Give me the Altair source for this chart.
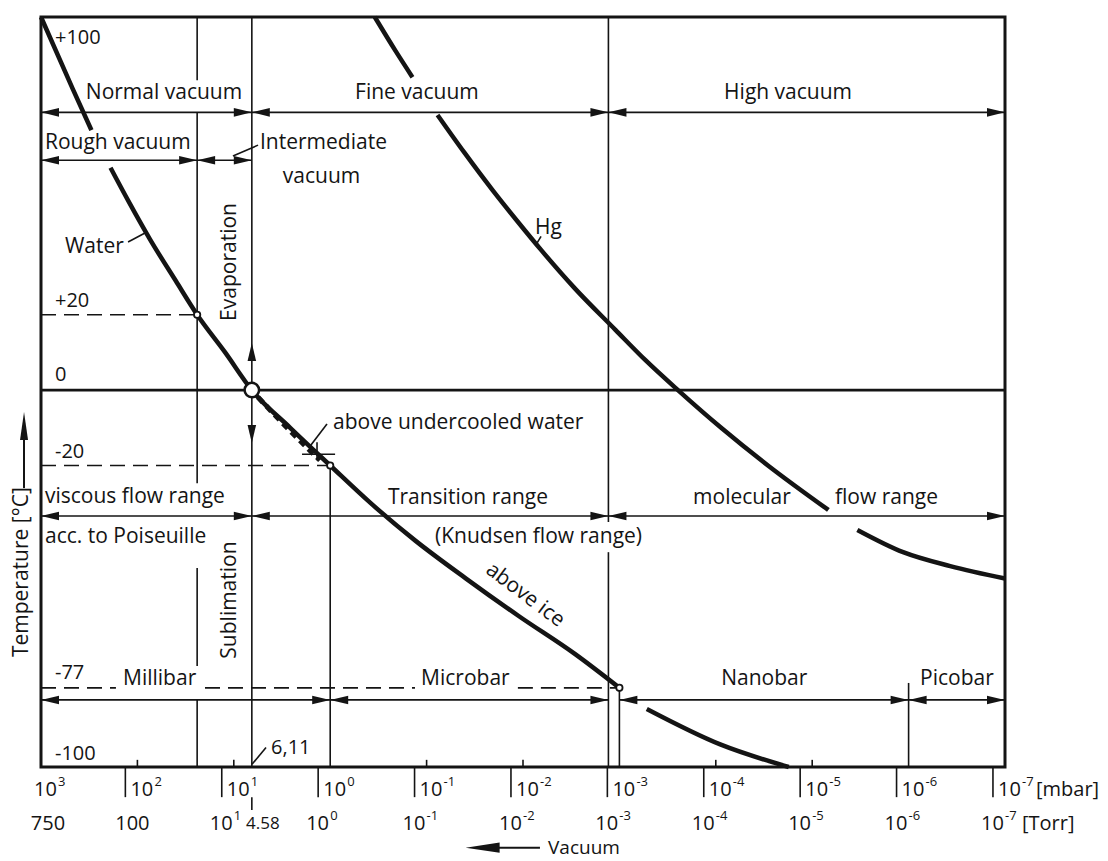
import altair as alt
import pandas as pd

FONT = "Open Sans"
INK = "#141414"

# ---------------- data (pressure in mbar, temperature in degC) ----------------
# water vapour pressure (over ice below 0 degC); segments are broken where labels sit
water_p = [1000, 470, 300,
           190, 123, 74, 40, 24, 12.3, 6.5, 2.6, 1.0, 0.38, 0.13, 0.039, 0.011, 0.0029, 0.001,
           0.00052, 0.00009, 0.0000175]
water_T = [99, 80, 69,
           59, 50, 40, 29, 20, 10, 0, -10, -20, -30, -40, -50, -60, -70, -79,
           -84.6, -94, -100]
water_seg = ["a"] * 3 + ["b"] * 15 + ["c"] * 3

# mercury vapour pressure
hg_p = [0.345, 0.21, 0.14,
        0.077, 0.0405, 0.0206, 0.0116, 0.0064, 0.0029, 0.0011, 0.00054, 0.000247, 0.000088,
        0.0000288, 0.0000068,
        0.0000034, 0.00000114, 0.00000037, 0.0000001]
hg_T = [99, 90, 83,
        73, 63, 53, 45, 37, 27, 16, 8, 0, -10, -20, -31.8,
        -37.1, -43, -46.7, -50]
hg_seg = ["a"] * 3 + ["b"] * 12 + ["c"] * 4

# vapour pressure above undercooled water
uc_p = [5.6, 2.8, 1.28]
uc_T = [-1.9, -10, -18.6]

# pressure ranges (double arrows)
range_names = ["Normal vacuum", "Fine vacuum", "High vacuum", "Rough vacuum", "Intermediate vacuum",
               "viscous flow range", "Transition range", "molecular flow range",
               "Millibar", "Microbar", "Nanobar", "Picobar"]
range_hi = [1000, 6.5, 0.0013, 1000, 24, 1000, 6.5, 0.0013, 1000, 1, 0.001, 1e-6]
range_lo = [6.5, 0.0013, 1e-7, 24, 6.5, 6.5, 0.0013, 1e-7, 1, 0.0013, 1e-6, 1e-7]
range_T = [73.7, 73.7, 73.7, 61, 61, -33.4, -33.4, -33.4, -82.2, -82.2, -82.2, -82.2]

# vertical boundary lines (pieces)
vline_p = [24, 24, 24, 24, 6.5, 1, 0.0013, 0.0013, 0.001, 1e-6]
vline_T1 = [99, 73.7, -47.2, -82.2, 99, -20, 99, -43, -79, -77.7]
vline_T2 = [82.2, -24.7, -73.2, -100, -100, -100, -35, -100, -100, -100]

# dashed reference temperatures
dash_T = [20, -20, -79, -79, -79]
dash_p1 = [1000, 1000, 1000, 19.9, 0.0113]
dash_p2 = [24, 1, 167, 0.132, 0.001]

# marked points
small_pts_p = [24, 1, 0.001]
small_pts_T = [20, -20, -79]
triple_p = [6.5]
triple_T = [0]

# bottom axis
mbar_exp = ["3", "2", "1", "0", "-1", "-2", "-3", "-4", "-5", "-6", "-7"]
mbar_tick_p = [100, 10, 0.1, 0.01, 1e-4, 1e-5]
torr_exp = ["1", "0", "-1", "-2", "-3", "-4", "-5", "-6", "-7"]
torr_tick_torr = [100, 10, 1, 0.1, 0.01, 1e-3, 1e-4, 1e-5, 1e-6, 1e-7]
MBAR_PER_TORR = 1.3332

# temperature labels
temp_labels = ["+100", "+20", "0", "-20", "-77", "-100"]
temp_label_T = [93.4, 23.6, 4.0, -16.4, -75.1, -96.6]

# free text labels
left_labels = ["Rough vacuum", "Intermediate", "vacuum", "Water", "Hg", "above undercooled water",
               "viscous flow range", "Transition range", "molecular", "flow range",
               "acc. to Poiseuille", "(Knudsen flow range)", "Millibar", "Microbar", "Nanobar", "Picobar"]
left_p = [909, 5.35, 3.1, 564, 0.0075, 0.935, 909, 0.252, 1.72e-4, 5.8e-6, 909, 0.0818,
          141, 0.114, 8.8e-5, 7.6e-7]
left_T = [65.5, 65.5, 56.5, 37.9, 43, -8.8, -28.4, -28.7, -28.7, -28.7, -39, -39,
          -76.7, -76.7, -76.7, -76.7]
center_labels = ["Normal vacuum", "Fine vacuum", "High vacuum"]
center_p = [53, 0.126, 1.78e-5]
center_T = [78.8, 78.8, 78.8]
vert_labels = ["Evaporation", "Sublimation"]
vert_p = [10.9, 10.9]
vert_T = [34, -55.7]

# short leader lines
lead_p1 = [125, 10.2, 1.08, 1.96, 1.37, 0.00716, 6.48]
lead_T1 = [39.3, 62.1, -9, -17, -13.8, 39, -99.3]
lead_p2 = [83.4, 5.6, 1.62, 0.89, 1.37, 0.0065, 4.63]
lead_T2 = [41.7, 65.0, -14.9, -17, -18.6, 40.8, -94.8]

# ---------------- scales & helpers ----------------
xs = alt.Scale(type="log", domain=[1e-7, 1000], reverse=True, nice=False)
ys = alt.Scale(type="linear", domain=[-100, 99], nice=False, zero=False)


def X(f="p"):
    return alt.X(f"{f}:Q", scale=xs, axis=None)


def Y(f="T"):
    return alt.Y(f"{f}:Q", scale=ys, axis=None)


def text_layer(df, size, align="left", angle=0, dx=0, dy=0, baseline="middle"):
    return alt.Chart(df).mark_text(font=FONT, fontSize=size, align=align, angle=angle,
                                   dx=dx, dy=dy, baseline=baseline, color=INK).encode(
        x=X(), y=Y(), text="label:N")


layers = []

# horizontal range lines
ranges = pd.DataFrame({"name": range_names, "hi": range_hi, "lo": range_lo, "T": range_T})
layers.append(alt.Chart(ranges).mark_rule(strokeWidth=1.6, color=INK).encode(
    x=X("hi"), x2=alt.X2("lo:Q"), y=Y("T")))

# 0 degC line
zero = pd.DataFrame({"p1": [1000], "p2": [1e-7], "T": [0]})
layers.append(alt.Chart(zero).mark_rule(strokeWidth=2.6, color=INK).encode(
    x=X("p1"), x2=alt.X2("p2:Q"), y=Y("T")))

# vertical lines
vl = pd.DataFrame({"p": vline_p, "T1": vline_T1, "T2": vline_T2})
layers.append(alt.Chart(vl).mark_rule(strokeWidth=1.6, color=INK).encode(
    x=X("p"), y=Y("T1"), y2=alt.Y2("T2:Q")))

# dashed lines
dl = pd.DataFrame({"p1": dash_p1, "p2": dash_p2, "T": dash_T})
layers.append(alt.Chart(dl).mark_rule(strokeWidth=1.6, strokeDash=[15, 8], color=INK).encode(
    x=X("p1"), x2=alt.X2("p2:Q"), y=Y("T")))

# axis ticks
mt = pd.DataFrame({"p": mbar_tick_p, "T1": [-100] * len(mbar_tick_p), "T2": [-98.1] * len(mbar_tick_p)})
tt = pd.DataFrame({"p": [t * MBAR_PER_TORR for t in torr_tick_torr],
                   "T1": [-100] * len(torr_tick_torr), "T2": [-108] * len(torr_tick_torr)})
t458 = pd.DataFrame({"p": triple_p, "T1": [-108], "T2": [-111.4]})
for d in (mt, tt, t458):
    layers.append(alt.Chart(d).mark_rule(strokeWidth=1.6, color=INK).encode(
        x=X("p"), y=Y("T1"), y2=alt.Y2("T2:Q")))

# leader lines
ld = pd.DataFrame({"p1": lead_p1, "T1": lead_T1, "p2": lead_p2, "T2": lead_T2})
layers.append(alt.Chart(ld).mark_rule(strokeWidth=1.6, color=INK).encode(
    x=X("p1"), x2=alt.X2("p2:Q"), y=Y("T1"), y2=alt.Y2("T2:Q")))

# arrow shafts for axis title arrows
VAC_T = -121.4
shaft_v = pd.DataFrame({"p": [1500], "T1": [-26], "T2": [-8]})
layers.append(alt.Chart(shaft_v).mark_rule(strokeWidth=2, color=INK).encode(
    x=X("p"), y=Y("T1"), y2=alt.Y2("T2:Q")))
shaft_h = pd.DataFrame({"p1": [0.0195], "p2": [0.00667], "T": [VAC_T]})
layers.append(alt.Chart(shaft_h).mark_rule(strokeWidth=2, color=INK).encode(
    x=X("p1"), x2=alt.X2("p2:Q"), y=Y("T")))

# curves
curves = pd.concat([
    pd.DataFrame({"p": water_p, "T": water_T, "seg": ["w" + s for s in water_seg]}),
    pd.DataFrame({"p": hg_p, "T": hg_T, "seg": ["h" + s for s in hg_seg]}),
], ignore_index=True)
curves["i"] = range(len(curves))
layers.append(alt.Chart(curves).mark_line(strokeWidth=4.5, color=INK, interpolate="monotone",
                                          strokeCap="butt").encode(
    x=X(), y=Y(), detail="seg:N", order="i:Q"))

uc = pd.DataFrame({"p": uc_p, "T": uc_T, "i": range(len(uc_p))})
layers.append(alt.Chart(uc).mark_line(strokeWidth=5, color=INK, strokeDash=[7, 5],
                                      interpolate="monotone").encode(
    x=X(), y=Y(), order="i:Q"))

# text labels
layers.append(text_layer(pd.DataFrame({"label": left_labels, "p": left_p, "T": left_T}), 21))
layers.append(text_layer(pd.DataFrame({"label": center_labels, "p": center_p, "T": center_T}), 21,
                         align="center"))
layers.append(text_layer(pd.DataFrame({"label": vert_labels, "p": vert_p, "T": vert_T}), 21,
                         align="center", angle=270))
layers.append(text_layer(pd.DataFrame({"label": ["above ice"], "p": [0.0095], "T": [-54.4]}), 21,
                         align="center", angle=37))
layers.append(text_layer(pd.DataFrame({"label": ["Temperature [°C]"], "p": [1575], "T": [-48.3]}), 21,
                         align="center", angle=270))
layers.append(text_layer(pd.DataFrame({"label": ["Vacuum"], "p": [0.0055], "T": [VAC_T]}), 19))
layers.append(text_layer(pd.DataFrame({"label": temp_labels, "p": [716] * len(temp_labels),
                                       "T": temp_label_T}), 20))
layers.append(text_layer(pd.DataFrame({"label": ["6,11"], "p": [4.11], "T": [-95]}), 20))

# bottom axis labels: mbar row
MB_T = -106.0
TO_T = -115.0
mb = pd.DataFrame({"label": ["10"] * len(mbar_exp), "p": [10.0 ** int(e) for e in mbar_exp],
                   "T": [MB_T] * len(mbar_exp)})
mbe = pd.DataFrame({"label": mbar_exp, "p": [10.0 ** int(e) for e in mbar_exp],
                    "T": [MB_T] * len(mbar_exp)})
layers.append(text_layer(mb, 20, dx=-7))
layers.append(text_layer(mbe, 13, dx=17, dy=-8))
layers.append(text_layer(pd.DataFrame({"label": ["[mbar]"], "p": [1e-7], "T": [MB_T]}), 20, dx=31))

# Torr row
tb = pd.DataFrame({"label": ["10"] * len(torr_exp),
                   "p": [10.0 ** int(e) * MBAR_PER_TORR for e in torr_exp],
                   "T": [TO_T] * len(torr_exp)})
tbe = pd.DataFrame({"label": torr_exp, "p": [10.0 ** int(e) * MBAR_PER_TORR for e in torr_exp],
                    "T": [TO_T] * len(torr_exp)})
layers.append(text_layer(tb, 20, dx=-12))
layers.append(text_layer(tbe, 13, dx=12, dy=-8))
layers.append(text_layer(pd.DataFrame({"label": ["750", "100"], "p": [1000, 100 * MBAR_PER_TORR],
                                       "T": [TO_T, TO_T]}), 20, align="center", dx=7))
layers.append(text_layer(pd.DataFrame({"label": ["4.58"], "p": triple_p, "T": [TO_T]}), 17,
                         align="center", dx=11))
layers.append(text_layer(pd.DataFrame({"label": ["[Torr]"], "p": [1e-7 * MBAR_PER_TORR], "T": [TO_T]}),
                         20, dx=29))

# points
layers.append(alt.Chart(pd.DataFrame({"p": triple_p, "T": triple_T})).mark_point(
    shape="circle", filled=True, fill="white", stroke=INK, strokeWidth=2.5, size=210, opacity=1).encode(
    x=X(), y=Y()))
layers.append(alt.Chart(pd.DataFrame({"p": small_pts_p, "T": small_pts_T})).mark_point(
    shape="circle", filled=True, fill="white", stroke=INK, strokeWidth=1.8, size=40, opacity=1).encode(
    x=X(), y=Y()))

# arrowheads
RIGHT = "M0,0L-4,-0.95L-4,0.95Z"
LEFT = "M0,0L4,-0.95L4,0.95Z"
UP = "M0,0L-0.95,4L0.95,4Z"
DOWN = "M0,0L-0.95,-4L0.95,-4Z"


def heads(df, shape, size=81):
    return alt.Chart(df).mark_point(shape=shape, filled=True, color=INK, size=size, opacity=1,
                                    strokeWidth=0).encode(x=X(), y=Y())


layers.append(heads(pd.DataFrame({"p": range_hi, "T": range_T}), LEFT))
layers.append(heads(pd.DataFrame({"p": range_lo, "T": range_T}), RIGHT))
layers.append(heads(pd.DataFrame({"p": triple_p, "T": [12.5]}), UP))
layers.append(heads(pd.DataFrame({"p": triple_p, "T": [-14]}), DOWN))
layers.append(heads(pd.DataFrame({"p": [1500], "T": [-5.8]}), "M0,0L-1,7L1,7Z", size=64))
layers.append(heads(pd.DataFrame({"p": [0.0394], "T": [VAC_T]}), "M0,0L8.5,-1.3L8.5,1.3Z", size=64))

chart = alt.layer(*layers).properties(
    width=964, height=750,
    padding={"left": 41, "top": 17, "right": 103, "bottom": 94},
    autosize="none",
    background="white",
).configure_view(stroke=INK, strokeWidth=3)

chart.save("out.html", embed_options={"renderer": "svg", "actions": False})
